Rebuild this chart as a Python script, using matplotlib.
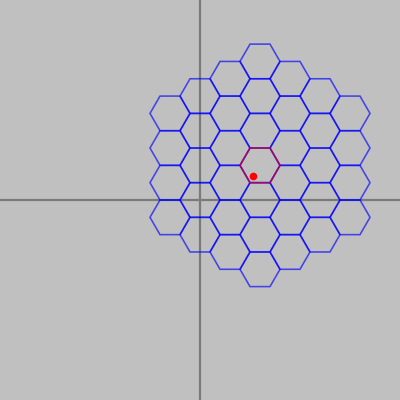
import numpy as np
import matplotlib
matplotlib.use("Agg")
import matplotlib.pyplot as plt
from matplotlib.patches import RegularPolygon

# Hex grid (flat-topped, axial coordinates relative to grid centre)
grid_center = (3.0, np.sqrt(3))
hex_size = 1.0
cell_q = [-3, -3, -3, -3,
          -2, -2, -2, -2, -2,
          -1, -1, -1, -1, -1, -1,
          0, 0, 0, 0, 0, 0, 0,
          1, 1, 1, 1, 1, 1,
          2, 2, 2, 2, 2,
          3, 3, 3, 3]
cell_r = [0, 1, 2, 3,
          -1, 0, 1, 2, 3,
          -2, -1, 0, 1, 2, 3,
          -3, -2, -1, 0, 1, 2, 3,
          -3, -2, -1, 0, 1, 2,
          -3, -2, -1, 0, 1,
          -3, -2, -1, 0]
highlight_cell = (0, 0)
point = (2.65, 1.2)

fig = plt.figure(figsize=(4, 4), dpi=100, facecolor="#c0c0c0")
ax = fig.add_axes([0, 0, 1, 1])
ax.set_facecolor("#c0c0c0")
ax.set_xlim(-10, 10)
ax.set_ylim(-10, 10)
ax.set_aspect("equal")
ax.axis("off")

ax.axhline(0, color="#7a7a7a", lw=1.6, zorder=1)
ax.axvline(0, color="#7a7a7a", lw=1.6, zorder=1)

def center_of(q, r):
    x = grid_center[0] + hex_size * 1.5 * q
    y = grid_center[1] + hex_size * np.sqrt(3) * (r + q / 2.0)
    return x, y

for q, r in zip(cell_q, cell_r):
    cx, cy = center_of(q, r)
    ax.add_patch(RegularPolygon((cx, cy), numVertices=6, radius=hex_size,
                                orientation=np.pi / 6, facecolor="none",
                                edgecolor=(0, 0, 1, 0.65), lw=1.15, zorder=2))

hx, hy = center_of(*highlight_cell)
ax.add_patch(RegularPolygon((hx, hy), numVertices=6, radius=hex_size,
                            orientation=np.pi / 6, facecolor="none",
                            edgecolor=(1, 0, 0, 0.6), lw=1.15, zorder=3))

ax.plot([point[0]], [point[1]], "o", color="red", markersize=5.5,
        markeredgewidth=0, zorder=4)

fig.savefig("out.png", dpi=100, facecolor="#c0c0c0")
